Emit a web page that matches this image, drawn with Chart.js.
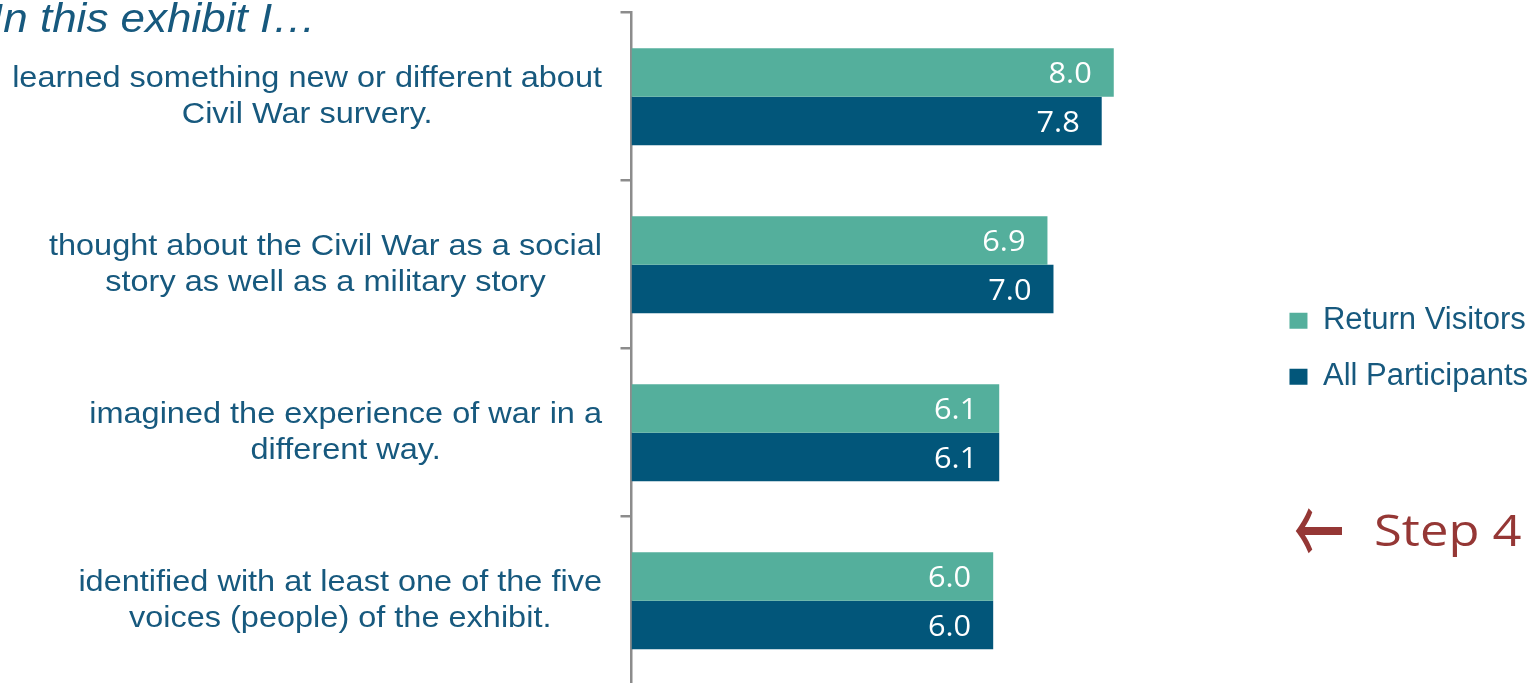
<!DOCTYPE html>
<html>
<head>
<meta charset="utf-8">
<script src="https://cdn.jsdelivr.net/npm/chart.js@4.4.1/dist/chart.umd.min.js"></script>
<style>
html, body { margin: 0; padding: 0; overflow: hidden; background: #ffffff; }
#wrap { position: absolute; left: 0; top: 0; width: 1535px; height: 690px; }
</style>
</head>
<body>
<div id="wrap"><canvas id="c" width="1535" height="690"></canvas></div>
<script>
// ---- data ----
const categories = [
  ["learned something new or different about", "Civil War survery."],
  ["thought about the Civil War as a social", "story as well as a military story"],
  ["imagined the experience of war in a", "different way."],
  ["identified with at least one of the five", "voices (people) of the exhibit."]
];
const seriesNames = ["Return Visitors", "All Participants"];
const returnVisitors = [8.0, 6.9, 6.1, 6.0];
const allParticipants = [7.8, 7.0, 6.1, 6.0];
const titleText = "In this exhibit I\u2026";
const noteArrow = "\u2190";
const noteText = "Step 4";

// ---- styles ----
const TEAL = '#54AF9C';
const NAVY = '#02567A';
const TEXT_BLUE = '#17597E';
const AXIS_GRAY = '#8C8C8C';
const NOTE_RED = '#953735';

const textPlugin = {
  id: 'texts',
  afterDraw(chart) {
    const ctx = chart.ctx;
    const yScale = chart.scales.y;
    ctx.save();

    // category labels (centered blocks, right edge near axis)
    ctx.fillStyle = TEXT_BLUE;
    ctx.font = '29px "Liberation Sans", Arial, sans-serif';
    const sx = 1.12;
    categories.forEach((lines, i) => {
      const cy = yScale.getPixelForValue(i);
      const widest = Math.max(...lines.map(l => ctx.measureText(l).width * sx));
      const cx = 602 - widest / 2;
      lines.forEach((l, j) => {
        ctx.save();
        ctx.translate(cx, cy - 10 + j * 36);
        ctx.scale(sx, 1);
        ctx.textAlign = 'center';
        ctx.textBaseline = 'alphabetic';
        ctx.fillText(l, 0, 0);
        ctx.restore();
      });
    });

    // value labels inside bar ends
    ctx.font = '29px "Open Sans", sans-serif';
    ctx.fillStyle = '#FFFFFF';
    chart.data.datasets.forEach((ds, di) => {
      const meta = chart.getDatasetMeta(di);
      meta.data.forEach((el, i) => {
        ctx.save();
        ctx.translate(el.x - 22, el.y + 11);
        ctx.scale(1.06, 1);
        ctx.textAlign = 'right';
        ctx.textBaseline = 'alphabetic';
        ctx.fillText(ds.data[i].toFixed(1), 0, 0);
        ctx.restore();
      });
    });

    // title
    ctx.fillStyle = TEXT_BLUE;
    ctx.font = 'italic 40px "Liberation Sans", Arial, sans-serif';
    ctx.save();
    ctx.translate(-9, 32);
    ctx.scale(1.1, 1);
    ctx.textAlign = 'left';
    ctx.textBaseline = 'alphabetic';
    ctx.fillText(titleText, 0, 0);
    ctx.restore();

    // note
    ctx.fillStyle = NOTE_RED;
    ctx.font = '500 50px "Noto Sans CJK JP", sans-serif';
    ctx.save();
    ctx.translate(1294, 531);
    ctx.scale(1, 1.9);
    ctx.textAlign = 'left';
    ctx.textBaseline = 'middle';
    ctx.fillText(noteArrow, 0, 0);
    ctx.restore();
    ctx.font = '43px "Open Sans", sans-serif';
    ctx.save();
    ctx.translate(1374, 546);
    ctx.scale(1.18, 1);
    ctx.textAlign = 'left';
    ctx.textBaseline = 'alphabetic';
    ctx.fillText(noteText, 0, 0);
    ctx.restore();

    ctx.restore();
  }
};

new Chart(document.getElementById('c'), {
  type: 'bar',
  data: {
    labels: categories,
    datasets: [
      { label: seriesNames[0], data: returnVisitors, backgroundColor: TEAL, borderWidth: 0,
        categoryPercentage: 0.577, barPercentage: 1.0 },
      { label: seriesNames[1], data: allParticipants, backgroundColor: NAVY, borderWidth: 0,
        categoryPercentage: 0.577, barPercentage: 1.0 }
    ]
  },
  options: {
    indexAxis: 'y',
    responsive: false,
    animation: false,
    devicePixelRatio: 1,
    layout: { padding: { top: 12.7, bottom: 5.3, left: 0, right: -3 } },
    scales: {
      y: {
        type: 'category',
        offset: true,
        grid: { display: true, offset: true, drawOnChartArea: false, drawTicks: true,
                tickLength: 11, color: AXIS_GRAY, lineWidth: 2.5 },
        border: { display: true, color: AXIS_GRAY, width: 2.5 },
        ticks: { display: false },
        afterFit: (s) => { s.width = 631.5; }
      },
      x: { display: false, min: 0, max: 10.5 }
    },
    plugins: {
      legend: {
        position: 'right',
        align: 'center',
        labels: {
          boxWidth: 18, boxHeight: 16, padding: 25, color: TEXT_BLUE,
          font: { family: '"Liberation Sans", Arial, sans-serif', size: 31 }
        }
      },
      tooltip: { enabled: false }
    }
  },
  plugins: [textPlugin]
});
</script>
</body>
</html>
